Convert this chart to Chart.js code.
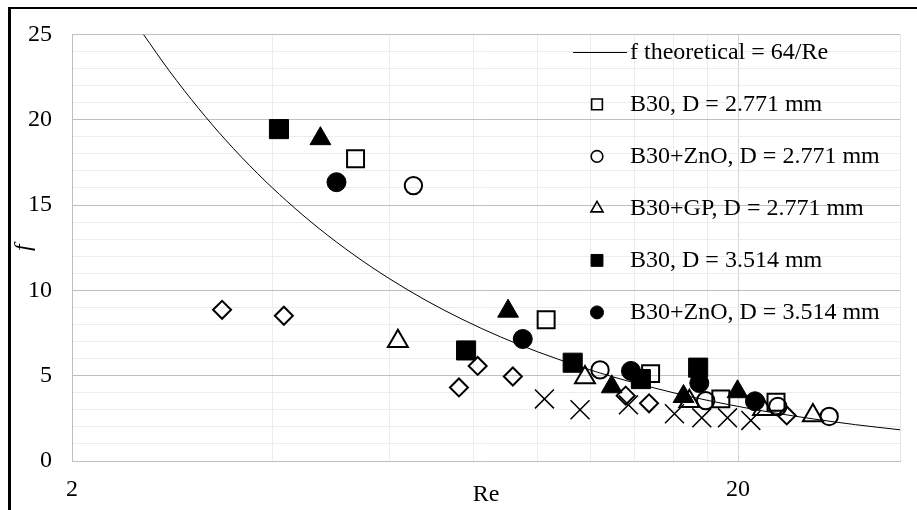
<!DOCTYPE html>
<html>
<head>
<meta charset="utf-8">
<script src="https://cdn.jsdelivr.net/npm/chart.js@4.4.0/dist/chart.umd.min.js"></script>
<style>
    html, body { margin: 0; padding: 0; background: #fff; }
    #marco { position: relative; width: 917px; height: 510px; overflow: hidden; }
    #marco canvas { position: absolute; left: 0; top: 0; }
    #borde { position: absolute; left: 8px; top: 7px; width: 1000px; height: 1000px; border-left: 3px solid #000; border-top: 2px solid #000; }
</style>
</head>
<body>
<div id="marco">
    <canvas id="friccion-grafica" width="917" height="510"></canvas>
    <div id="borde"></div>
</div>
<script>
// curva teórica f = 64/Re
const reTeorico = [2.56, 2.8, 3.1, 3.4, 3.8, 4.2, 4.7, 5.3, 6, 6.8, 7.7, 8.8, 10, 11.5, 13, 15, 17, 19.5, 22.5, 26, 30, 35];
const fTeorico  = [25, 22.86, 20.65, 18.82, 16.84, 15.24, 13.62, 12.08, 10.67, 9.41, 8.31, 7.27, 6.4, 5.57, 4.92, 4.27, 3.76, 3.28, 2.84, 2.46, 2.13, 1.83];

// D = 2.771 mm
const reB30_2771 = [5.33, 10.30, 14.78, 18.84, 22.8];
const fB30_2771  = [17.71, 8.28, 5.12, 3.64, 3.44];
const reZnO_2771 = [6.51, 12.41, 17.88, 22.94, 27.4];
const fZnO_2771  = [16.14, 5.34, 3.54, 3.19, 2.61];
const reGP_2771  = [6.17, 11.78, 16.9, 21.8, 25.9];
const fGP_2771   = [7.02, 4.90, 3.50, 3.04, 2.66];

// D = 3.514 mm
const reB30_3514 = [4.09, 7.81, 11.29, 14.29, 17.42];
const fB30_3514  = [19.45, 6.48, 5.76, 4.80, 5.47];
const reZnO_3514 = [4.99, 9.50, 13.81, 17.49, 21.2];
const fZnO_3514  = [16.34, 7.15, 5.28, 4.57, 3.50];
const reGP_3514  = [4.72, 9.03, 12.92, 16.56, 19.96];
const fGP_3514   = [18.89, 8.78, 4.35, 3.78, 4.06];

// series sin entrada visible en la leyenda
const reRombo = [3.36, 4.16, 7.62, 8.13, 9.18, 13.56, 14.7, 23.66];
const fRombo  = [8.86, 8.51, 4.31, 5.57, 4.95, 3.83, 3.38, 2.67];
const reCruz  = [10.24, 11.58, 13.69, 16.05, 17.64, 19.28, 20.9];
const fCruz   = [3.64, 3.00, 3.29, 2.77, 2.53, 2.53, 2.38];

// ejes
const xGrid = [2, 4, 6, 8, 10, 12, 14, 16, 18, 20];
const xEtiquetas = [2, 20];
const yEtiquetas = [0, 5, 10, 15, 20, 25];

const fuente = "'Liberation Serif', 'Times New Roman', serif";
const enLeyenda = 6;

function puntos(xs, ys) {
    return xs.map((x, i) => ({ x: x, y: ys[i] }));
}

const abierto = { backgroundColor: 'rgba(0,0,0,0)', borderColor: '#000', borderWidth: 2 };
const lleno = { backgroundColor: '#000', borderColor: '#000', borderWidth: 1 };

const series = [
    { label: 'f theoretical = 64/Re', data: puntos(reTeorico, fTeorico), showLine: true, borderColor: '#000', borderWidth: 1, pointRadius: 0, cubicInterpolationMode: 'monotone' },
    { label: 'B30, D = 2.771 mm', data: puntos(reB30_2771, fB30_2771), pointStyle: 'rect', pointRadius: 12, legendRadius: 7.6, ...abierto },
    { label: 'B30+ZnO, D = 2.771 mm', data: puntos(reZnO_2771, fZnO_2771), pointStyle: 'circle', pointRadius: 8.7, legendRadius: 5.8, ...abierto },
    { label: 'B30+GP, D = 2.771 mm', data: puntos(reGP_2771, fGP_2771), pointStyle: 'triangle', pointRadius: 11.5, legendRadius: 7, ...abierto },
    { label: 'B30, D = 3.514 mm', data: puntos(reB30_3514, fB30_3514), pointStyle: 'rect', pointRadius: 13.5, legendRadius: 8.4, ...lleno },
    { label: 'B30+ZnO, D = 3.514 mm', data: puntos(reZnO_3514, fZnO_3514), pointStyle: 'circle', pointRadius: 9.5, legendRadius: 6.5, ...lleno },
    { label: 'B30+GP, D = 3.514 mm', data: puntos(reGP_3514, fGP_3514), pointStyle: 'triangle', pointRadius: 12, ...lleno },
    { label: 'Serie 8', data: puntos(reRombo, fRombo), pointStyle: 'rectRot', pointRadius: 9, ...abierto },
    { label: 'Serie 9', data: puntos(reCruz, fCruz), pointStyle: 'crossRot', pointRadius: 13.4, backgroundColor: '#000', borderColor: '#000', borderWidth: 1.5 }
];
// como en Excel: la serie posterior queda encima
series.forEach((s, i) => { s.order = series.length - i; });

// leyenda dentro del área de trazado, sin fondo
const leyendaDentro = {
    id: 'leyendaDentro',
    beforeDatasetsDraw(chart) {
        const { ctx, chartArea } = chart;
        ctx.save();
        ctx.strokeStyle = '#e4e4e4';
        ctx.lineWidth = 1;
        ctx.beginPath();
        ctx.moveTo(chartArea.right + 0.5, chartArea.top);
        ctx.lineTo(chartArea.right + 0.5, chartArea.bottom);
        ctx.stroke();
        ctx.restore();
    },
    afterDatasetsDraw(chart) {
        const { ctx, chartArea } = chart;
        const lineaX = chartArea.right - 327;
        const marcaX = chartArea.right - 303;
        const textoX = chartArea.right - 270;
        ctx.save();
        ctx.font = '24px ' + fuente;
        ctx.textBaseline = 'middle';
        ctx.textAlign = 'left';
        chart.data.datasets.slice(0, enLeyenda).forEach((ds, i) => {
            const y = chartArea.top + 18 + i * 52;
            ctx.strokeStyle = '#000';
            ctx.fillStyle = ds.backgroundColor || '#000';
            if (ds.showLine) {
                ctx.lineWidth = 1;
                ctx.beginPath();
                ctx.moveTo(lineaX, Math.round(y) + 0.5);
                ctx.lineTo(lineaX + 54, Math.round(y) + 0.5);
                ctx.stroke();
            } else {
                ctx.lineWidth = ds.borderWidth > 1 ? 1.6 : 1;
                Chart.helpers.drawPoint(ctx, {
                    pointStyle: ds.pointStyle,
                    radius: ds.legendRadius,
                    borderWidth: ctx.lineWidth,
                    rotation: 0
                }, marcaX, y);
            }
            ctx.fillStyle = '#000';
            ctx.fillText(ds.label, textoX, y);
        });
        ctx.restore();
    }
};

const ctx = document.getElementById('friccion-grafica').getContext('2d');
const grafica = new Chart(ctx, {
    type: 'scatter',
    data: { datasets: series },
    options: {
        responsive: false,
        animation: false,
        events: [],
        layout: { padding: { top: 30, right: 17, bottom: 0, left: 0 } },
        plugins: {
            legend: { display: false },
            tooltip: { enabled: false }
        },
        scales: {
            x: {
                type: 'logarithmic',
                min: 2,
                max: 35,
                afterBuildTicks: scale => { scale.ticks = xGrid.map(v => ({ value: v })); },
                afterFit: scale => { scale.height = 49; },
                ticks: {
                    autoSkip: false,
                    maxRotation: 0,
                    padding: 14,
                    color: '#000',
                    font: { family: fuente, size: 24 },
                    callback: value => xEtiquetas.includes(value) ? String(value) : ''
                },
                grid: {
                    drawTicks: false,
                    color: c => (c.tick && xEtiquetas.includes(c.tick.value)) ? '#d6d6d6' : '#ececec'
                },
                border: { color: '#bfbfbf' },
                title: {
                    display: true,
                    text: 'Re',
                    color: '#000',
                    font: { family: fuente, size: 24 },
                    padding: { top: 0, bottom: 1 }
                }
            },
            y: {
                min: 0,
                max: 25,
                afterFit: scale => { scale.width = 72; },
                ticks: {
                    stepSize: 1,
                    autoSkip: false,
                    padding: 20,
                    color: '#000',
                    font: { family: fuente, size: 24 },
                    callback: value => yEtiquetas.includes(value) ? String(value) : ''
                },
                grid: {
                    drawTicks: false,
                    color: c => (c.tick && yEtiquetas.includes(c.tick.value)) ? '#bfbfbf' : '#ededed'
                },
                border: { color: '#bfbfbf' },
                title: {
                    display: true,
                    text: 'f',
                    color: '#000',
                    font: { family: fuente, size: 24, style: 'italic' },
                    padding: { top: 9, bottom: 0 }
                }
            }
        }
    },
    plugins: [leyendaDentro]
});
</script>
</body>
</html>
